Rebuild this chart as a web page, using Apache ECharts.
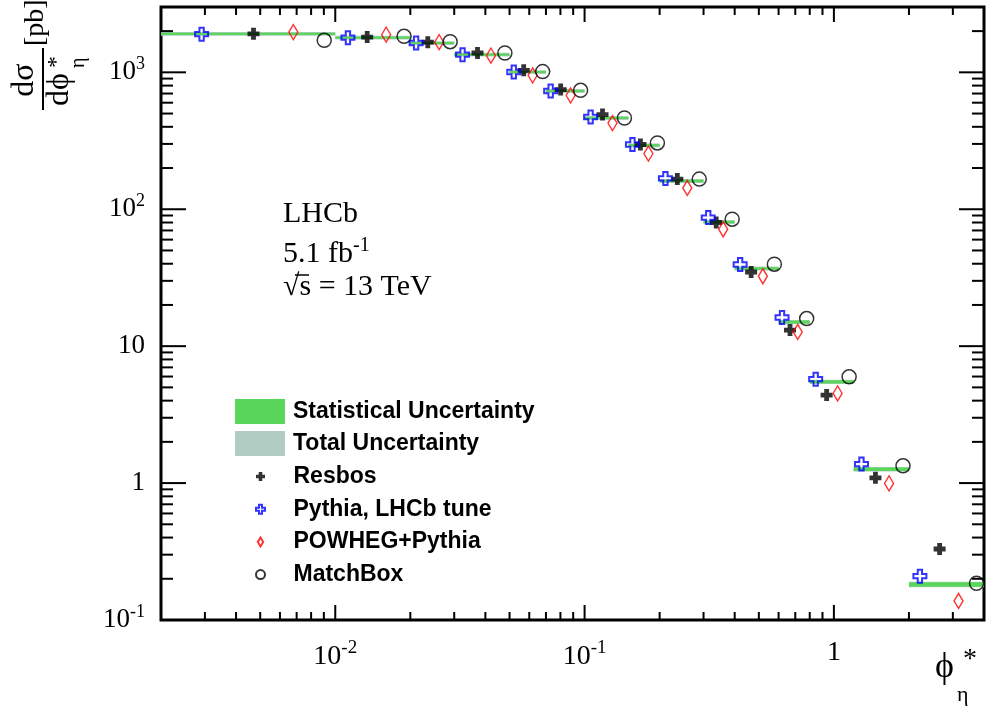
<!DOCTYPE html>
<html><head><meta charset="utf-8">
<script src="https://cdn.jsdelivr.net/npm/echarts@6/dist/echarts.min.js"></script>
<style>html,body{margin:0;padding:0;background:#fff}#c{width:987px;height:713px}</style>
</head><body><div id="c"></div>
<script>
// ---- data (phi*_eta bins, measured cross-section, model predictions) ----
const binEdges   = [0, 0.01, 0.02, 0.03, 0.05, 0.07, 0.10, 0.15, 0.20, 0.30, 0.40, 0.60, 0.80, 1.20, 2.00, 4.00];
const dataValues = [1911, 1792, 1637, 1346, 1005, 731, 464, 293, 161, 80.7, 36.9, 15.0, 5.49, 1.264, 0.182];
const statErrRel = [0.018, 0.018, 0.018, 0.018, 0.018, 0.018, 0.018, 0.02, 0.02, 0.02, 0.022, 0.025, 0.027, 0.03, 0.038];
const totErrRel  = [0.032, 0.032, 0.032, 0.032, 0.032, 0.032, 0.032, 0.033, 0.033, 0.033, 0.034, 0.035, 0.036, 0.038, 0.045];

const resbosX   = [0.0047, 0.01343, 0.0235, 0.0372, 0.0570, 0.0802, 0.1180, 0.1675, 0.2355, 0.3373, 0.4656, 0.6668, 0.935, 1.468, 2.655];
const resbosY   = [1910, 1810, 1660, 1384, 1035, 748, 491, 297, 166, 80.0, 34.8, 13.1, 4.39, 1.093, 0.330];
const pythiaX   = [0.00291, 0.01124, 0.0211, 0.0324, 0.0520, 0.0731, 0.1057, 0.1556, 0.2110, 0.3133, 0.4207, 0.6194, 0.845, 1.290, 2.213];
const pythiaY   = [1900, 1790, 1637, 1346, 1005, 731, 472, 297, 168, 86.9, 39.5, 16.2, 5.74, 1.377, 0.209];
const powhegX   = [0.00679, 0.01600, 0.0261, 0.0421, 0.0619, 0.0879, 0.1294, 0.1803, 0.2582, 0.3597, 0.5188, 0.7161, 1.035, 1.664, 3.162];
const powhegY   = [1968, 1885, 1660, 1324, 951, 679, 426, 255, 143, 71.4, 32.4, 12.7, 4.52, 0.995, 0.1377];
const matchboxX = [0.00903, 0.01888, 0.0289, 0.0479, 0.0679, 0.0964, 0.1445, 0.1959, 0.2884, 0.3908, 0.577, 0.7777, 1.151, 1.893, 3.733];
const matchboxY = [1713, 1833, 1675, 1384, 1012, 739, 464, 305, 166, 84.6, 39.7, 15.9, 5.97, 1.337, 0.1854];

const xMin = 0.002, xMax = 4, yMin = 0.1, yMax = 3000;

// ---- styling ----
const SERIF = '"Liberation Serif", "Times New Roman", serif';
const SANS = '"Liberation Sans", Arial, sans-serif';
const statColor = '#5ad65a';
const totColor = '#b2cdc4';

function pairs(xs, ys) { return xs.map((x, i) => [x, ys[i]]); }
function bandData(errs) {
  return dataValues.map((v, i) => [Math.max(binEdges[i], xMin), binEdges[i + 1], v, errs[i]]);
}
function bandRender(params, api) {
  const lo = api.value(0), hi = api.value(1), v = api.value(2), e = api.value(3);
  const p1 = api.coord([lo, v * (1 + e)]);
  const p2 = api.coord([hi, v * (1 - e)]);
  return { type: 'rect', shape: { x: p1[0], y: p1[1], width: p2[0] - p1[0], height: p2[1] - p1[1] },
           style: { fill: api.visual('color') } };
}
// tick positions on log axes (1..9 x 10^n)
function logTicks(lo, hi) {
  const out = [];
  for (let e = Math.floor(Math.log10(lo)); e <= Math.ceil(Math.log10(hi)); e++) {
    for (let m = 1; m <= 9; m++) {
      const v = m * Math.pow(10, e);
      if (v >= lo * 0.9999 && v <= hi * 1.0001) out.push([v, m === 1 ? 1 : 0]);
    }
  }
  return out;
}
const xTicks = logTicks(xMin, xMax).map(t => [t[0], yMin, t[1]]);
const yTicks = logTicks(yMin, yMax).map(t => [xMin, t[0], t[1]]);

function xTickRender(params, api) {
  const v = api.value(0), major = api.value(2) === 1;
  const pb = api.coord([v, yMin]), pt = api.coord([v, yMax]);
  const L = major ? 15 : 8;
  const st = { stroke: '#000', lineWidth: 2 };
  return { type: 'group', children: [
    { type: 'line', shape: { x1: pb[0], y1: pb[1], x2: pb[0], y2: pb[1] - L }, style: st },
    { type: 'line', shape: { x1: pt[0], y1: pt[1], x2: pt[0], y2: pt[1] + L }, style: st }
  ]};
}
function yTickRender(params, api) {
  const v = api.value(1), major = api.value(2) === 1;
  const pl = api.coord([xMin, v]), pr = api.coord([xMax, v]);
  const L = major ? 25 : 12;
  const st = { stroke: '#000', lineWidth: 2 };
  return { type: 'group', children: [
    { type: 'line', shape: { x1: pl[0], y1: pl[1], x2: pl[0] + L, y2: pl[1] }, style: st },
    { type: 'line', shape: { x1: pr[0], y1: pr[1], x2: pr[0] - L, y2: pr[1] }, style: st }
  ]};
}
function powLabel(v) {
  const lg = Math.log10(v), e = Math.round(lg);
  if (Math.abs(lg - e) > 1e-6) return '';
  if (e === 0) return '{b|1}';
  if (e === 1) return '{b|10}';
  return '{b|10}{s|' + (e < 0 ? '-' + (-e) : e) + '}';
}
const yRich = {
  b: { fontFamily: SERIF, fontSize: 27, color: '#000' },
  s: { fontFamily: SERIF, fontSize: 18, color: '#000', padding: [0, 0, 16, 0] }
};
const xRich = {
  b: { fontFamily: SERIF, fontSize: 28, color: '#000' },
  s: { fontFamily: SERIF, fontSize: 19, color: '#000', padding: [0, 0, 16, 0] }
};

const markerPlus = 'path://M3,0H7V3H10V7H7V10H3V7H0V3H3Z';
const markerOpenCross = 'path://M3,0H6V3H9V6H6V9H3V6H0V3H3Z';
const markerDiamond = 'path://M3,0L6,5L3,10L0,5Z';

const chart = echarts.init(document.getElementById('c'), null, { renderer: 'canvas' });
const legendText = { fontFamily: SANS, fontWeight: 'bold', fontSize: 23, color: '#000' };

chart.setOption({
  animation: false,
  backgroundColor: '#fff',
  grid: { left: 161, right: 3, top: 7, bottom: 93, show: true, borderColor: '#000', borderWidth: 3 },
  xAxis: {
    type: 'log', logBase: 10, min: xMin, max: xMax,
    axisLine: { show: false }, axisTick: { show: false }, splitLine: { show: false }, minorTick: { show: false },
    axisLabel: { formatter: powLabel, rich: xRich, margin: 19, showMinLabel: true, showMaxLabel: true, hideOverlap: false }
  },
  yAxis: {
    type: 'log', logBase: 10, min: yMin, max: yMax,
    axisLine: { show: false }, axisTick: { show: false }, splitLine: { show: false }, minorTick: { show: false },
    axisLabel: { formatter: powLabel, rich: yRich, margin: 16, showMinLabel: true, showMaxLabel: true, hideOverlap: false }
  },
  legend: [
    { orient: 'vertical', left: 235, top: 399, padding: 0, itemWidth: 50, itemHeight: 25, itemGap: 7,
      selectedMode: false, textStyle: Object.assign({ padding: [0, 0, 0, 3] }, legendText),
      data: [ { name: 'Statistical Uncertainty', icon: 'rect', itemStyle: { color: statColor } },
              { name: 'Total Uncertainty', icon: 'rect', itemStyle: { color: totColor } } ] },
    { orient: 'vertical', left: 255, top: 465, padding: 0, itemWidth: 50, itemHeight: 9, itemGap: 9.7,
      selectedMode: false, textStyle: Object.assign({ padding: [0, 0, 0, 3] }, legendText),
      data: ['Resbos', 'Pythia, LHCb tune', 'POWHEG+Pythia', 'MatchBox'] }
  ],
  series: [
    { name: 'Total Uncertainty', type: 'custom', renderItem: bandRender, data: bandData(totErrRel),
      itemStyle: { color: totColor }, silent: true, z: 2 },
    { name: 'Statistical Uncertainty', type: 'custom', renderItem: bandRender, data: bandData(statErrRel),
      itemStyle: { color: statColor }, silent: true, z: 3 },
    { name: 'xticks', type: 'custom', renderItem: xTickRender, data: xTicks, silent: true, z: 4 },
    { name: 'yticks', type: 'custom', renderItem: yTickRender, data: yTicks, silent: true, z: 4 },
    { name: 'Resbos', type: 'scatter', data: pairs(resbosX, resbosY), symbol: markerPlus, symbolSize: 12,
      itemStyle: { color: '#000' }, z: 6, silent: true },
    { name: 'Pythia, LHCb tune', type: 'scatter', data: pairs(pythiaX, pythiaY), symbol: markerOpenCross, symbolSize: 13,
      itemStyle: { color: 'rgba(0,0,0,0)', borderColor: '#0000ff', borderWidth: 2 }, z: 6, silent: true },
    { name: 'POWHEG+Pythia', type: 'scatter', data: pairs(powhegX, powhegY), symbol: markerDiamond, symbolSize: [9, 15],
      itemStyle: { color: 'rgba(0,0,0,0)', borderColor: '#ff0000', borderWidth: 1.5 }, z: 6, silent: true },
    { name: 'MatchBox', type: 'scatter', data: pairs(matchboxX, matchboxY), symbol: 'circle', symbolSize: 14,
      itemStyle: { color: 'rgba(0,0,0,0)', borderColor: '#000', borderWidth: 1.5 }, z: 6, silent: true }
  ],
  graphic: [
    { type: 'text', left: 283, top: 199, style: { text: 'LHCb', font: '30px ' + SERIF, fill: '#000' } },
    { type: 'text', left: 283, top: 236, style: { text: '5.1 fb{s|-1}', font: '30px ' + SERIF, fill: '#000',
        rich: { s: { fontFamily: SERIF, fontSize: 20, fill: '#000', padding: [0, 0, 16, 0] } } } },
    { type: 'text', left: 283, top: 272, style: { text: '\u221As = 13 TeV', font: '30px ' + SERIF, fill: '#000' } },
    { type: 'line', shape: { x1: 295, y1: 275, x2: 309, y2: 275 }, style: { stroke: '#000', lineWidth: 1.5 } },
    // x axis title
    { type: 'text', x: 935, y: 650, style: { text: '\u03D5', font: '36px ' + SERIF, fill: '#000' } },
    { type: 'text', x: 957, y: 684, style: { text: '\u03B7', font: '22px ' + SERIF, fill: '#000' } },
    { type: 'text', x: 963, y: 646, style: { text: '*', font: '28px ' + SERIF, fill: '#000' } },
    // y axis title (rotated)
    { type: 'group', x: 43, y: 110, rotation: Math.PI / 2, children: [
      { type: 'line', shape: { x1: 0, y1: 0, x2: 62, y2: 0 }, style: { stroke: '#000', lineWidth: 2 } },
      { type: 'text', x: 30, y: -2, style: { text: 'd\u03C3', font: '32px ' + SERIF, fill: '#000', align: 'center', verticalAlign: 'bottom' } },
      { type: 'text', x: 4, y: 1, style: { text: 'd\u03D5', font: '32px ' + SERIF, fill: '#000', align: 'left', verticalAlign: 'top' } },
      { type: 'text', x: 42, y: 2, style: { text: '*', font: '24px ' + SERIF, fill: '#000', align: 'left', verticalAlign: 'top' } },
      { type: 'text', x: 42, y: 26, style: { text: '\u03B7', font: '20px ' + SERIF, fill: '#000', align: 'left', verticalAlign: 'top' } },
      { type: 'text', x: 64, y: -7, style: { text: '[pb]', font: '28px ' + SERIF, fill: '#000', align: 'left', verticalAlign: 'middle' } }
    ]}
  ]
});
</script>
</body></html>
